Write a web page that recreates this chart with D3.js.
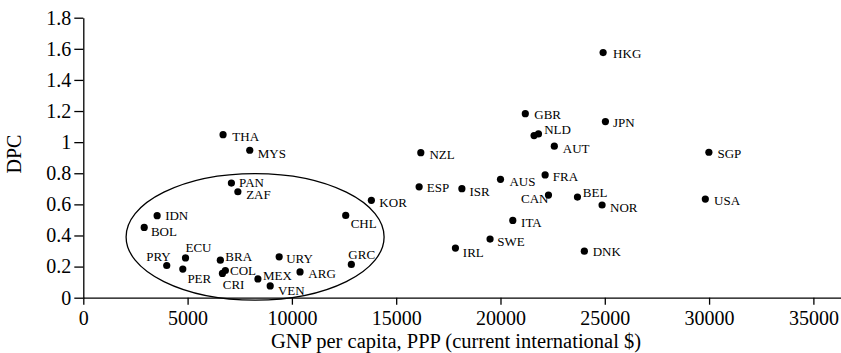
<!DOCTYPE html>
<html>
<head>
<meta charset="utf-8">
<script src="https://cdn.jsdelivr.net/npm/d3@7"></script>
<style>
  html, body { margin: 0; padding: 0; background: #fff; }
  svg { display: block; }
  text { font-family: "Liberation Serif", "Times New Roman", serif; fill: #000; }
</style>
</head>
<body>
<svg id="chart" width="841" height="353"></svg>
<script>
// Country codes, GNP per capita (PPP, current international $) and DPC
const countries = ["HKG","GBR","JPN","NLD","","AUT","SGP","AUS","FRA","CAN","BEL","NOR","USA","ITA","SWE","DNK",
  "NZL","ESP","ISR","KOR","CHL","IRL","GRC","ARG","THA","MYS","PAN","ZAF","IDN","BOL","ECU","PRY","PER",
  "BRA","COL","CRI","MEX","VEN","URY"];
const gnp = [24920, 21190, 25030, 21820, 21610, 22580, 29990, 20000, 22140, 22300, 23690, 24870, 29820, 20590, 19500, 24020,
  16180, 16100, 18150, 13810, 12580, 17840, 12850, 10390, 6700, 7980, 7100, 7410, 3540, 2920, 4900, 4000, 4770,
  6570, 6810, 6670, 8370, 8960, 9390];
const dpc = [1.576, 1.183, 1.132, 1.053, 1.042, 0.974, 0.935, 0.761, 0.789, 0.660, 0.647, 0.596, 0.634, 0.497, 0.377, 0.299,
  0.932, 0.713, 0.701, 0.626, 0.529, 0.319, 0.214, 0.166, 1.048, 0.948, 0.737, 0.681, 0.527, 0.452, 0.256, 0.207, 0.184,
  0.241, 0.175, 0.156, 0.121, 0.076, 0.263];

// Axis ticks
const xTicks = [0, 5000, 10000, 15000, 20000, 25000, 30000, 35000];
const xTickLabels = ["0", "5000", "10000", "15000", "20000", "25000", "30000", "35000"];
const yTicks = [0, 0.2, 0.4, 0.6, 0.8, 1, 1.2, 1.4, 1.6, 1.8];
const yTickLabels = ["0", "0.2", "0.4", "0.6", "0.8", "1", "1.2", "1.4", "1.6", "1.8"];

// Ellipse grouping the low-income economies: centre and semi-axes in data units
const groupCentre = [8236, 0.391];
const groupRadii = [6184, 0.407];

const xTitle = "GNP per capita, PPP (current international $)";
const yTitle = "DPC";

const svg = d3.select("#chart");
const x = d3.scaleLinear().domain([0, 36300]).range([83.3, 840.5]);
const y = d3.scaleLinear().domain([0, 1.8]).range([297.7, 17.7]);

// X axis
const xAxis = d3.axisBottom(x)
  .tickValues(xTicks)
  .tickFormat((d, i) => xTickLabels[i])
  .tickSizeInner(7).tickSizeOuter(0).tickPadding(6);
const gx = svg.append("g").attr("transform", `translate(0,${y(0)})`).call(xAxis);
gx.selectAll("text").attr("font-size", 20).attr("font-family", "Liberation Serif");

// Y axis
const yAxis = d3.axisLeft(y)
  .tickValues(yTicks)
  .tickFormat((d, i) => yTickLabels[i])
  .tickSizeInner(9).tickSizeOuter(0).tickPadding(3);
const gy = svg.append("g").attr("transform", `translate(${x(0)},0)`).call(yAxis);
gy.selectAll("text").attr("font-size", 20).attr("font-family", "Liberation Serif");

svg.selectAll(".domain, .tick line").attr("stroke", "#000").attr("stroke-width", 1.3);

// Axis titles
svg.append("text")
  .attr("x", 456).attr("y", 348)
  .attr("text-anchor", "middle").attr("font-size", 20.5)
  .text(xTitle);
svg.append("text")
  .attr("transform", `translate(21,154) rotate(-90)`)
  .attr("text-anchor", "middle").attr("font-size", 20)
  .text(yTitle);

// Ellipse
const ex = x(groupCentre[0]), ey = y(groupCentre[1]);
svg.append("ellipse")
  .attr("cx", ex).attr("cy", ey)
  .attr("rx", x(groupRadii[0]) - x(0))
  .attr("ry", y(0) - y(groupRadii[1]))
  .attr("fill", "none").attr("stroke", "#000").attr("stroke-width", 1.3);

// Points
const pts = countries.map((c, i) => ({ code: c, gx: gnp[i], dv: dpc[i] }));
svg.append("g").selectAll("circle").data(pts).join("circle")
  .attr("cx", d => x(d.gx)).attr("cy", d => y(d.dv))
  .attr("r", 3.6).attr("fill", "#000");

// Label placement relative to each dot: [dx, vertical offset of text centre, anchor]
const place = {
  HKG: [10, 1.3], GBR: [9, 1.3], JPN: [7.5, 1], NLD: [5.7, -4], AUT: [8.5, 2.4], SGP: [8.6, 1.7],
  AUS: [9, 2.4], FRA: [7.7, 1.7], CAN: [0, 3.3, "end"], BEL: [5.4, -4], NOR: [8, 2.7], USA: [8.7, 1.7],
  ITA: [8.3, 2.4], SWE: [7.3, 2.7], DNK: [8.4, 0.7], NZL: [8.6, 2.3], ESP: [7.7, 1], ISR: [7.6, 3],
  KOR: [8, 2.7], CHL: [5, 8], IRL: [7.4, 4.7], GRC: [-3, -10.3], ARG: [8.3, 1.6], THA: [9.3, 2],
  MYS: [8, 3], PAN: [7.7, -0.8], ZAF: [8.3, 3.2], IDN: [8, 0.3], BOL: [6.7, 4.4], ECU: [0, -10.4],
  PRY: [4, -9.3, "end"], PER: [4.6, 9.3], BRA: [5, -4], COL: [4.7, 0], CRI: [0.3, 10.7], MEX: [5, -3.4],
  VEN: [7.7, 4.3], URY: [7, 2.3]
};
svg.append("g").selectAll("text").data(pts.filter(d => d.code)).join("text")
  .attr("font-size", 13)
  .attr("x", d => x(d.gx) + (place[d.code] || [8, 2])[0])
  .attr("y", d => y(d.dv) + (place[d.code] || [8, 2])[1] + 4.4)
  .attr("text-anchor", d => (place[d.code] || [])[2] || "start")
  .text(d => d.code);
</script>
</body>
</html>
